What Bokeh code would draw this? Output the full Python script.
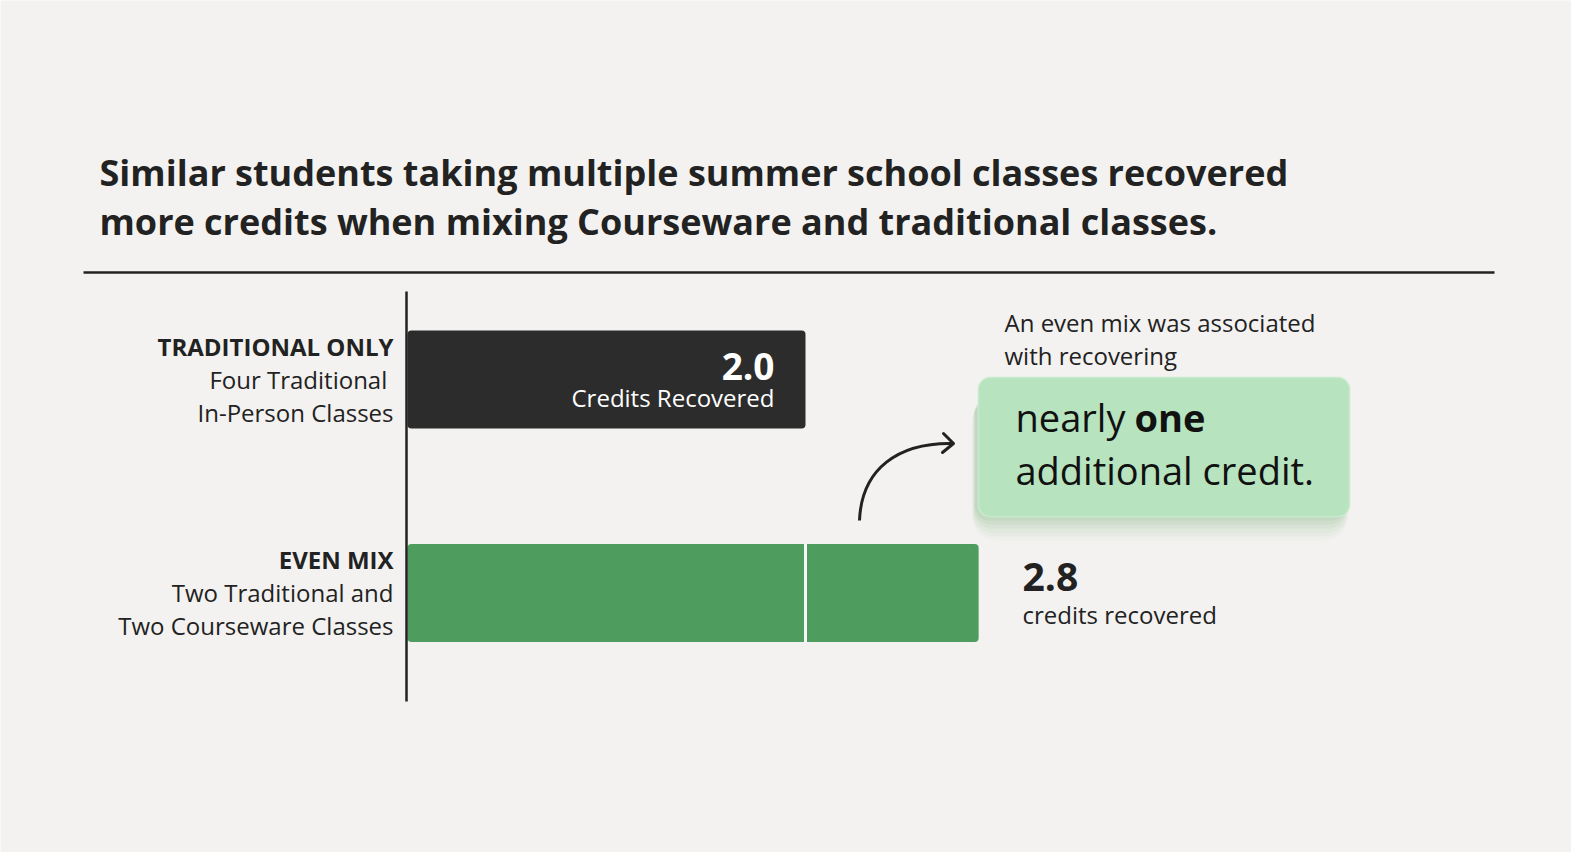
from bokeh.plotting import figure
from bokeh.models import Range1d
from bokeh.core.properties import value
from bokeh.embed import file_html
from bokeh.resources import INLINE

# ---------------- data ----------------
title_lines = ["Similar students taking multiple summer school classes recovered",
               "more credits when mixing Courseware and traditional classes."]
categories = ["TRADITIONAL ONLY", "EVEN MIX"]
descriptions = [["Four Traditional ", "In-Person Classes"],
                ["Two Traditional and", "Two Courseware Classes"]]
credits = [2.0, 2.87]          # bar lengths
credit_labels = ["2.0", "2.8"]
credit_units = ["Credits Recovered", "credits recovered"]
note_lines = ["An even mix was associated", "with recovering"]
callout_plain = ["nearly ", "additional credit."]
callout_bold = "one"

# ---------------- layout helpers ----------------
W, H = 1571, 852
OFF = 0
ZERO_PX = 407           # page x of 0 credits
PPC = 199.0             # pixels per credit
BG = "#f3f2f0"
INK = "#222222"
FONT = value("Open Sans")


def X(px):
    return (px - ZERO_PX) / PPC


def Y(py):
    return py - OFF


def B(baseline, fs):
    # place text so its baseline lands at the given page y
    return Y(baseline - 0.38 * fs)


p = figure(width=W, height=H,
           x_range=Range1d(X(OFF), X(OFF + W)),
           y_range=Range1d(H, 0),
           x_axis_type=None, y_axis_type=None,
           output_backend="svg", toolbar_location=None,
           min_border=0, background_fill_color=BG, border_fill_color=BG,
           outline_line_color=None)
p.grid.visible = False

# title
p.text(x=[X(99), X(99)], y=[B(186, 36), B(235, 36)], text=title_lines,
       text_font=FONT, text_font_style="bold", text_font_size="36px",
       text_color=INK, text_align="left", text_baseline="alphabetic")
# rule under title
p.segment(x0=[X(83)], x1=[X(1494)], y0=[Y(272)], y1=[Y(272)],
          line_color=INK, line_width=2.5)

# bars
bar_y = [Y(379), Y(592.5)]
bar_colors = ["#2c2c2c", "#4f9d5e"]
p.hbar(y=bar_y, left=0, right=credits, height=98, fill_color=bar_colors,
       line_color=None, border_radius=4)
# white divider in the mix bar at the traditional level
p.segment(x0=[credits[0]], x1=[credits[0]], y0=[bar_y[1] - 49], y1=[bar_y[1] + 49],
          line_color="#f7f7f5", line_width=3)
# vertical axis line
p.segment(x0=[X(406)], x1=[X(406)], y0=[Y(291)], y1=[Y(701)],
          line_color=INK, line_width=2.5)

# category labels
lab_x = X(393)
for i, base in enumerate([355.5, 568.5]):
    p.text(x=[lab_x], y=[B(base, 24)], text=[categories[i]], text_font=FONT,
           text_font_style="bold", text_font_size="24px", text_color=INK,
           text_align="right", text_baseline="alphabetic")
    p.text(x=[lab_x, lab_x], y=[B(base + 33, 24), B(base + 66, 24)],
           text=descriptions[i], text_font=FONT, text_font_size="24px",
           text_color=INK, text_align="right", text_baseline="alphabetic")

# value label inside the traditional bar
inner_x = credits[0] - 31 / PPC
p.text(x=[inner_x], y=[B(380, 37)], text=[credit_labels[0]],
       text_font=FONT, text_font_style="bold", text_font_size="37px",
       text_color="white", text_align="right", text_baseline="alphabetic")
p.text(x=[inner_x], y=[B(406.5, 24)], text=[credit_units[0]],
       text_font=FONT, text_font_size="24px", text_color="white",
       text_align="right", text_baseline="alphabetic")

# value label right of the mix bar
p.text(x=[X(1022)], y=[B(591, 39)], text=[credit_labels[1]], text_font=FONT,
       text_font_style="bold", text_font_size="39px", text_color=INK,
       text_align="left", text_baseline="alphabetic")
p.text(x=[X(1022)], y=[B(623, 24)], text=[credit_units[1]], text_font=FONT,
       text_font_size="24px", text_color=INK, text_align="left",
       text_baseline="alphabetic")

# note above callout
p.text(x=[X(1004), X(1004)], y=[B(331.5, 24), B(364.5, 24)], text=note_lines,
       text_font=FONT, text_font_size="24px", text_color=INK,
       text_align="left", text_baseline="alphabetic")

# callout box shadow (soft, offset downward)
for d, a in [(24, 0.04), (20, 0.05), (16, 0.06), (12, 0.08), (8, 0.10), (4, 0.12)]:
    p.quad(left=[X(975 - d * 0.15)], right=[X(1344 + d * 0.15)],
           top=[Y(398)], bottom=[Y(516 + d)],
           fill_color="#7fb67a", fill_alpha=a, line_color=None,
           border_radius=int(12 + d // 2))
# callout box
p.quad(left=[X(978)], right=[X(1349)], top=[Y(377)], bottom=[Y(516)],
       fill_color="#b7e3bf", line_color="#c6ebcc", line_width=1.5,
       border_radius=12)
p.text(x=[X(1015)], y=[B(431, 38)], text=[callout_plain[0]], text_font=FONT,
       text_font_size="38px", text_color="#111111", text_align="left",
       text_baseline="alphabetic")
p.text(x=[X(1134)], y=[B(431, 38)], text=[callout_bold], text_font=FONT,
       text_font_style="bold", text_font_size="38px", text_color="#111111",
       text_align="left", text_baseline="alphabetic")
p.text(x=[X(1015)], y=[B(483.5, 38)], text=[callout_plain[1]], text_font=FONT,
       text_font_size="38px", text_color="#111111", text_align="left",
       text_baseline="alphabetic")

# curved arrow
p.bezier(x0=[X(859)], y0=[Y(520)], x1=[X(952)], y1=[Y(443)],
         cx0=[X(861)], cy0=[Y(468)], cx1=[X(898)], cy1=[Y(442)],
         line_color=INK, line_width=3)
p.line(x=[X(943), X(953), X(942)], y=[Y(433), Y(443), Y(452)],
       line_color=INK, line_width=3, line_join="round", line_cap="round")

open("out.html", "w").write(file_html(p, INLINE))
